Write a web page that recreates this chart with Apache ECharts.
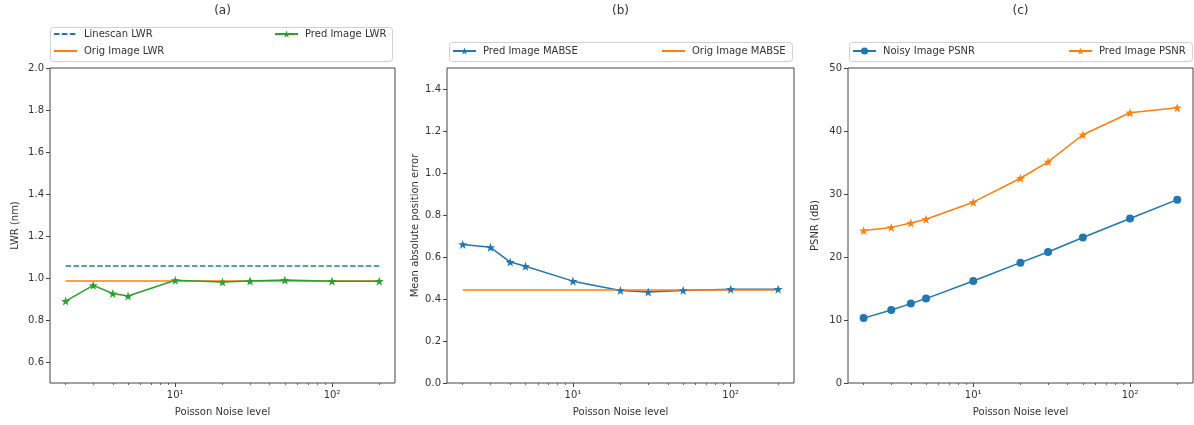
<!DOCTYPE html>
<html>
<head>
<meta charset="utf-8">
<script src="https://cdn.jsdelivr.net/npm/echarts@6/dist/echarts.min.js"></script>
<style>
html,body{margin:0;padding:0;background:#fff;}
#chart{width:1194px;height:425px;}
</style>
</head>
<body>
<div id="chart"></div>
<script>
// ---- data ----
const noiseLevels = [2, 3, 4, 5, 10, 20, 30, 50, 100, 200];
const linescanLWR = [1.057, 1.057, 1.057, 1.057, 1.057, 1.057, 1.057, 1.057, 1.057, 1.057];
const origLWR     = [0.986, 0.986, 0.986, 0.986, 0.986, 0.986, 0.986, 0.986, 0.986, 0.986];
const predLWR     = [0.890, 0.965, 0.926, 0.914, 0.989, 0.981, 0.986, 0.990, 0.985, 0.985];
const predMABSE   = [0.660, 0.646, 0.576, 0.556, 0.485, 0.441, 0.433, 0.441, 0.447, 0.447];
const origMABSE   = [0.443, 0.443, 0.443, 0.443, 0.443, 0.443, 0.443, 0.443, 0.443, 0.443];
const noisyPSNR   = [10.3, 11.6, 12.6, 13.4, 16.2, 19.1, 20.8, 23.1, 26.1, 29.1];
const predPSNR    = [24.2, 24.7, 25.4, 26.0, 28.7, 32.5, 35.1, 39.4, 42.9, 43.7];
const xMajorTicks = [10, 100];
const xMinorTicks = [2, 3, 4, 5, 6, 7, 8, 9, 20, 30, 40, 50, 60, 70, 80, 90, 200];
const yTicksA = [0.6, 0.8, 1.0, 1.2, 1.4, 1.6, 1.8, 2.0];
const yTicksB = [0.0, 0.2, 0.4, 0.6, 0.8, 1.0, 1.2, 1.4];
const yTicksC = [0, 10, 20, 30, 40, 50];
const panelTitles = ['(a)', '(b)', '(c)'];

// ---- styles ----
const C_BLUE = '#1f77b4', C_ORANGE = '#ff7f0e', C_GREEN = '#2ca02c';
const FONT = 'DejaVu Sans';
const TXT = '#333';
const STAR = 'path://M0,-10L2.35,-3.24L9.51,-3.09L3.8,1.24L5.88,8.09L0,4L-5.88,8.09L-3.8,1.24L-9.51,-3.09L-2.35,-3.24Z';
const sup = {1: '\u00b9', 2: '\u00b2', 3: '\u00b3'};

const grids = [
  {left: 50, top: 68, width: 345, height: 315},
  {left: 447, top: 68, width: 347, height: 315},
  {left: 848, top: 68, width: 345, height: 315}
];

function pair(v){ return noiseLevels.map((x, i) => [x, v[i]]); }

const xAxes = [];
const yAxes = [];
grids.forEach((g, i) => {
  xAxes.push({
    type: 'log', gridIndex: i, min: 1.59, max: 252, position: 'bottom',
    name: 'Poisson Noise level', nameLocation: 'middle', nameGap: 24,
    nameTextStyle: {fontFamily: FONT, fontSize: 10, color: TXT},
    axisLine: {show: false},
    splitLine: {show: false},
    axisTick: {show: true, length: 4, customValues: xMajorTicks, lineStyle: {color: '#444', width: 1}},
    axisLabel: {customValues: xMajorTicks, margin: 7, fontFamily: FONT, fontSize: 10, color: TXT,
      formatter: v => '10' + sup[Math.round(Math.log10(v))]}
  });
  xAxes.push({
    type: 'log', gridIndex: i, min: 1.59, max: 252, position: 'bottom',
    axisLine: {show: false}, splitLine: {show: false},
    axisTick: {show: true, length: 2, customValues: xMinorTicks, lineStyle: {color: '#444', width: 0.8}},
    axisLabel: {show: false}
  });
});
const yConf = [
  {min: 0.5, max: 2.0, ticks: yTicksA, name: 'LWR (nm)', fmt: v => v.toFixed(1), gap: 30},
  {min: 0, max: 1.5, ticks: yTicksB, name: 'Mean absolute position error', fmt: v => v.toFixed(1), gap: 27},
  {min: 0, max: 50, ticks: yTicksC, name: 'PSNR (dB)', fmt: v => String(v), gap: 28}
];
yConf.forEach((c, i) => {
  yAxes.push({
    type: 'value', gridIndex: i, min: c.min, max: c.max,
    name: c.name, nameLocation: 'middle', nameGap: c.gap,
    nameTextStyle: {fontFamily: FONT, fontSize: 10, color: TXT},
    axisLine: {show: false}, splitLine: {show: false},
    axisTick: {show: true, length: 4, customValues: c.ticks, lineStyle: {color: '#444', width: 1}},
    axisLabel: {customValues: c.ticks, margin: 6, fontFamily: FONT, fontSize: 10, color: TXT, formatter: c.fmt}
  });
});

function lineSeries(name, data, xi, yi, color, opts) {
  return Object.assign({
    name: name, type: 'line', xAxisIndex: xi, yAxisIndex: yi, data: pair(data),
    symbol: 'none', symbolSize: 9, animation: false,
    lineStyle: {color: color, width: 1.5},
    itemStyle: {color: color}
  }, opts || {});
}

const series = [
  lineSeries('Linescan LWR', linescanLWR, 0, 0, C_BLUE, {lineStyle: {color: C_BLUE, width: 1.5, type: [5.5, 2.4]}}),
  lineSeries('Orig Image LWR', origLWR, 0, 0, C_ORANGE),
  lineSeries('Pred Image LWR', predLWR, 0, 0, C_GREEN, {symbol: STAR, symbolSize: 9}),
  lineSeries('Pred Image MABSE', predMABSE, 2, 1, C_BLUE, {symbol: STAR, symbolSize: 9}),
  lineSeries('Orig Image MABSE', origMABSE, 2, 1, C_ORANGE),
  lineSeries('Noisy Image PSNR', noisyPSNR, 4, 2, C_BLUE, {symbol: 'circle', symbolSize: 8}),
  lineSeries('Pred Image PSNR', predPSNR, 4, 2, C_ORANGE, {symbol: STAR, symbolSize: 9})
];

function legendItem(name, left, top, noSymbol) {
  const l = {
    data: [name], left: left, top: top, orient: 'horizontal', padding: 0,
    itemWidth: 23, itemHeight: 9, itemGap: 0,
    textStyle: {fontFamily: FONT, fontSize: 10, color: TXT, padding: [0, 0, 0, 2]},
    selectedMode: false
  };
  if (noSymbol) l.itemStyle = {opacity: 0};
  return l;
}
const legends = [
  legendItem('Linescan LWR', 53, 29, true),
  legendItem('Orig Image LWR', 53, 46, true),
  legendItem('Pred Image LWR', 274, 29),
  legendItem('Pred Image MABSE', 452, 46),
  legendItem('Orig Image MABSE', 661, 46, true),
  legendItem('Noisy Image PSNR', 852, 46),
  legendItem('Pred Image PSNR', 1068, 46)
];

const boxes = [
  {x: 50, y: 27, w: 342, h: 34},
  {x: 449, y: 42, w: 343, h: 19},
  {x: 849, y: 42, w: 343, h: 19}
];
const graphics = [];
boxes.forEach(b => graphics.push({
  type: 'rect', z: 0, shape: {x: b.x + 0.5, y: b.y + 0.5, width: b.w, height: b.h, r: 3},
  style: {fill: 'rgba(255,255,255,0.8)', stroke: '#d0d0d0', lineWidth: 1}
}));
grids.forEach((g, i) => graphics.push({
  type: 'text', x: g.left + g.width / 2, y: 11,
  style: {text: panelTitles[i], font: '12px "DejaVu Sans"', fill: TXT, textAlign: 'center', textVerticalAlign: 'middle'}
}));

const chart = echarts.init(document.getElementById('chart'), null, {renderer: 'canvas'});
chart.setOption({
  backgroundColor: '#fff',
  animation: false,
  grid: grids.map(g => Object.assign({show: true, borderColor: '#444', borderWidth: 1, backgroundColor: 'transparent', containLabel: false}, g)),
  xAxis: xAxes,
  yAxis: yAxes,
  legend: legends,
  series: series,
  graphic: graphics
});
</script>
</body>
</html>
